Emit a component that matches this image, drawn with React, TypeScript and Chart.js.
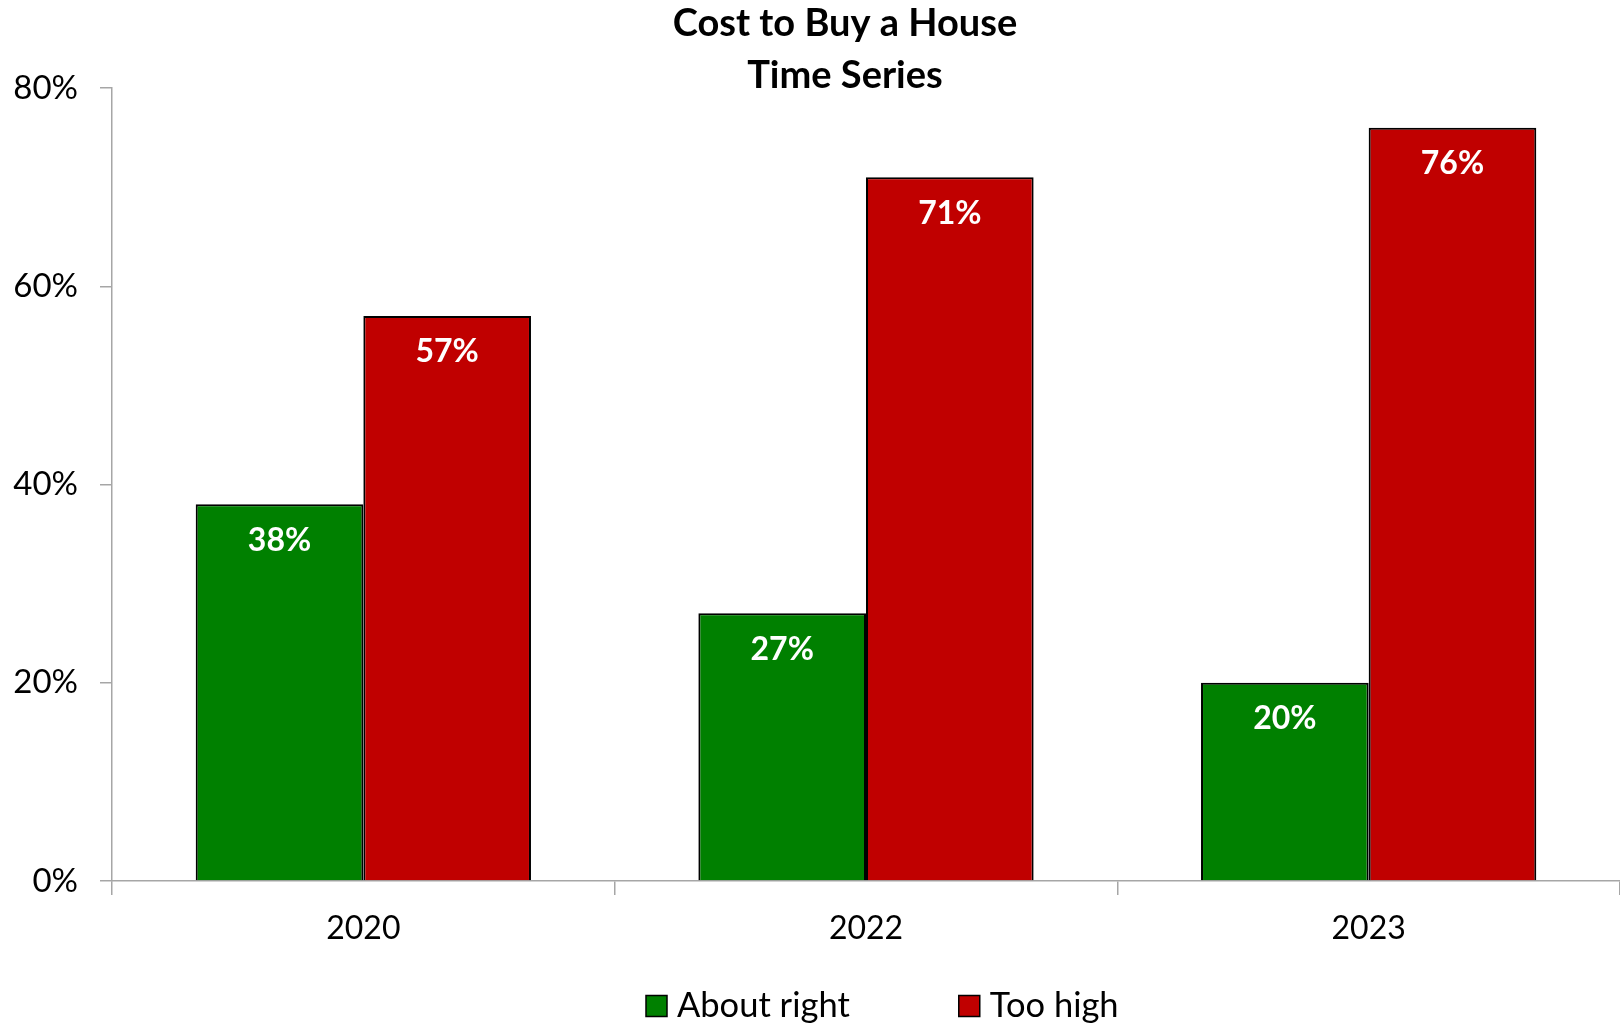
import React, { useEffect, useRef } from "react";
import { Chart, registerables } from "chart.js";
Chart.register(...registerables);

const categories = ["2020", "2022", "2023"];
const aboutRight = [38, 27, 20];
const tooHigh = [57, 71, 76];
const seriesLabels = ["About right", "Too high"];
const seriesColors = ["#008000", "#C00000"];
const yTicks = [0, 20, 40, 60, 80];
const titleLines = ["Cost to Buy a House", "Time Series"];

const FONT = "Lato, 'Open Sans', sans-serif";
const AXIS_COLOR = "#A6A6A6";

export default function App() {
  const ref = useRef<HTMLCanvasElement>(null);
  useEffect(() => {
    const canvas = ref.current!;
    const titlePlugin = {
      id: "customTitle",
      afterDraw(chart: any) {
        const ctx = chart.ctx;
        ctx.save();
        ctx.fillStyle = "#000";
        ctx.font = `bold 38px ${FONT}`;
        ctx.textAlign = "center";
        ctx.textBaseline = "middle";
        ctx.fillText(titleLines[0], 845, 24);
        ctx.fillText(titleLines[1], 845, 76);
        ctx.restore();
      },
    };
    const labelPlugin = {
      id: "barLabels",
      afterDatasetsDraw(chart: any) {
        const ctx = chart.ctx;
        ctx.save();
        ctx.fillStyle = "#fff";
        ctx.font = `bold 32px ${FONT}`;
        ctx.textAlign = "center";
        ctx.textBaseline = "middle";
        chart.data.datasets.forEach((ds: any, i: number) => {
          chart.getDatasetMeta(i).data.forEach((bar: any, j: number) => {
            ctx.fillText(ds.data[j] + "%", bar.x, bar.y + 36);
          });
        });
        ctx.restore();
      },
    };
    const legendPlugin = {
      id: "customLegend",
      afterDraw(chart: any) {
        const ctx = chart.ctx;
        ctx.save();
        ctx.font = `34.5px ${FONT}`;
        ctx.textBaseline = "middle";
        ctx.textAlign = "left";
        const box = 21;
        const gapText = 10;
        const gapItem = 109;
        let x = 646;
        const cy = 1006;
        chart.data.datasets.forEach((ds: any) => {
          ctx.fillStyle = ds.backgroundColor;
          ctx.fillRect(x, cy - box / 2, box, box);
          ctx.strokeStyle = "#000";
          ctx.lineWidth = 1.5;
          ctx.strokeRect(x, cy - box / 2, box, box);
          ctx.fillStyle = "#000";
          ctx.fillText(ds.label, x + box + gapText, cy);
          x += box + gapText + ctx.measureText(ds.label).width + gapItem;
        });
        ctx.restore();
      },
    };

    const chart = new Chart(canvas, {
      type: "bar",
      data: {
        labels: categories,
        datasets: [
          {
            label: seriesLabels[0],
            data: aboutRight,
            backgroundColor: seriesColors[0],
            borderColor: "#000",
            borderWidth: 2,
            borderSkipped: "start",
            categoryPercentage: 0.667,
            barPercentage: 1,
          },
          {
            label: seriesLabels[1],
            data: tooHigh,
            backgroundColor: seriesColors[1],
            borderColor: "#000",
            borderWidth: 2,
            borderSkipped: "start",
            categoryPercentage: 0.667,
            barPercentage: 1,
          },
        ],
      },
      options: {
        animation: false,
        responsive: false,
        maintainAspectRatio: false,
        layout: { padding: { top: 88, left: 0, right: -4, bottom: 0 } },
        plugins: {
          legend: { display: false },
          title: { display: false },
          tooltip: { enabled: false },
        },
        scales: {
          x: {
            type: "category",
            grid: {
              display: true,
              drawOnChartArea: false,
              drawTicks: true,
              tickLength: 14,
              color: AXIS_COLOR,
              lineWidth: 1.5,
              offset: true,
            },
            border: { color: AXIS_COLOR, width: 1.5 },
            ticks: { font: { family: FONT, size: 32 }, color: "#000", padding: 14 },
            afterFit(scale: any) {
              scale.height = 143;
            },
          },
          y: {
            min: 0,
            max: 80,
            grid: {
              display: true,
              drawOnChartArea: false,
              drawTicks: true,
              tickLength: 12,
              color: AXIS_COLOR,
              lineWidth: 1.5,
            },
            border: { color: AXIS_COLOR, width: 1.5 },
            afterBuildTicks(scale: any) {
              scale.ticks = yTicks.map((v) => ({ value: v }));
            },
            ticks: {
              font: { family: FONT, size: 33 },
              color: "#000",
              padding: 22,
              callback: (v: any) => v + "%",
            },
            afterFit(scale: any) {
              scale.width = 112;
            },
          },
        },
      },
      plugins: [titlePlugin, labelPlugin, legendPlugin],
    } as any);
    return () => chart.destroy();
  }, []);
  return (
    <div style={{ position: "absolute", left: 0, top: 0, width: 1620, height: 1024, background: "#fff" }}>
      <canvas ref={ref} width={1620} height={1024} style={{ width: 1620, height: 1024, display: "block" }} />
    </div>
  );
}
